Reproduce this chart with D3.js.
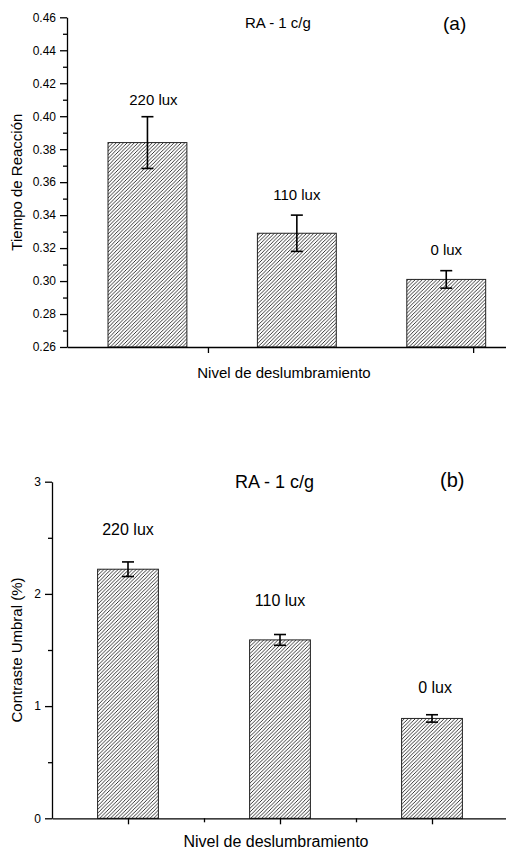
<!DOCTYPE html>
<html>
<head>
<meta charset="utf-8">
<script src="https://cdn.jsdelivr.net/npm/d3@7"></script>
<style>
  body { margin: 0; background: #fff; }
  svg text { font-family: "Liberation Sans", Arial, sans-serif; fill: #000; }
</style>
</head>
<body>
<svg id="chart" width="506" height="855"></svg>
<script>
// values
const categories = ['220 lux', '110 lux', '0 lux'];
const catPos = [1, 2, 3];

const tiempo = [0.384, 0.329, 0.301];
const tiempoErr = [0.0157, 0.011, 0.0053];
const tiempoLabelAt = [0.407, 0.349, 0.316];
const tiempoLabelPos = [1.04, 2, 3];
const tiempoTicks = [0.26, 0.28, 0.30, 0.32, 0.34, 0.36, 0.38, 0.40, 0.42, 0.44, 0.46];
const tiempoMinor = [0.27, 0.29, 0.31, 0.33, 0.35, 0.37, 0.39, 0.41, 0.43, 0.45];
const tiempoXTicks = [1.405, 3.18];

const contraste = [2.22, 1.59, 0.89];
const contrasteErr = [0.065, 0.048, 0.033];
const contrasteLabelAt = [2.525, 1.892, 1.117];
const contrasteLabelPos = [1, 2, 3.02];
const contrasteTicks = [0, 1, 2, 3];
const contrasteMinor = [0.5, 1.5, 2.5];
const contrasteXTicks = [1, 2, 3];
const contrasteXMinor = [1.5, 2.5];

const svg = d3.select('#chart');

// hatch fill used by the bars
svg.append('defs')
  .append('pattern')
  .attr('id', 'hatch')
  .attr('patternUnits', 'userSpaceOnUse')
  .attr('width', 3.6)
  .attr('height', 3.6)
  .append('path')
  .attr('d', 'M-1,1 l2,-2 M0,3.6 l3.6,-3.6 M2.6,4.6 l2,-2')
  .attr('stroke', '#222')
  .attr('stroke-width', 0.9);

function drawPanel(p) {
  const g = svg.append('g');
  const x = d3.scaleLinear().domain(p.xDomain).range(p.xRange);
  const y = d3.scaleLinear().domain(p.yDomain).range(p.yRange);

  const rows = p.values.map((v, i) => ({
    pos: catPos[i], v: v, err: p.errs[i], name: categories[i],
    labelAt: p.labelAt[i], labelPos: p.labelPos[i]
  }));

  // bars
  g.selectAll('rect.bar')
    .data(rows)
    .join('rect')
    .attr('class', 'bar')
    .attr('x', d => x(d.pos - p.barW / 2))
    .attr('width', d => x(d.pos + p.barW / 2) - x(d.pos - p.barW / 2))
    .attr('y', d => y(d.v))
    .attr('height', d => y(p.yDomain[0]) - y(d.v))
    .attr('fill', 'url(#hatch)')
    .attr('stroke', '#222')
    .attr('stroke-width', 1);

  // error bars
  const eb = g.selectAll('g.err').data(rows).join('g').attr('class', 'err')
    .attr('stroke', '#000').attr('stroke-width', 1.6);
  eb.append('line')
    .attr('x1', d => x(d.pos)).attr('x2', d => x(d.pos))
    .attr('y1', d => y(d.v + d.err)).attr('y2', d => y(d.v - d.err));
  eb.append('line')
    .attr('x1', d => x(d.pos) - 6).attr('x2', d => x(d.pos) + 6)
    .attr('y1', d => y(d.v + d.err)).attr('y2', d => y(d.v + d.err));
  eb.append('line')
    .attr('x1', d => x(d.pos) - 6).attr('x2', d => x(d.pos) + 6)
    .attr('y1', d => y(d.v - d.err)).attr('y2', d => y(d.v - d.err));

  // bar labels
  g.selectAll('text.lbl')
    .data(rows)
    .join('text')
    .attr('class', 'lbl')
    .attr('x', d => x(d.labelPos))
    .attr('y', d => y(d.labelAt))
    .attr('text-anchor', 'middle')
    .style('font-size', p.lblSize + 'px')
    .text(d => d.name);

  // y axis
  g.append('g')
    .attr('transform', `translate(${p.xRange[0]},0)`)
    .call(d3.axisLeft(y).tickValues(p.yTicks).tickSize(7).tickSizeOuter(0)
      .tickPadding(4).tickFormat(p.yFormat));
  g.append('g')
    .attr('transform', `translate(${p.xRange[0]},0)`)
    .call(d3.axisLeft(y).tickValues(p.yMinor).tickSize(4).tickFormat(''))
    .call(a => a.select('.domain').remove());

  // x axis
  g.append('g')
    .attr('transform', `translate(0,${p.yRange[0]})`)
    .call(d3.axisBottom(x).tickValues(p.xTicks).tickSize(6).tickSizeOuter(0).tickFormat(''));
  if (p.xMinor) {
    g.append('g')
      .attr('transform', `translate(0,${p.yRange[0]})`)
      .call(d3.axisBottom(x).tickValues(p.xMinor).tickSize(4).tickFormat(''))
      .call(a => a.select('.domain').remove());
  }

  g.selectAll('.domain, .tick line').attr('stroke', '#000').attr('stroke-width', 1.3);
  g.selectAll('.tick text')
    .style('font-family', '"Liberation Sans", Arial, sans-serif')
    .style('font-size', '12px').attr('fill', '#000');

  // titles
  g.append('text')
    .attr('x', p.raX).attr('y', p.raY)
    .style('font-size', p.raSize + 'px')
    .text('RA - 1 c/g');
  g.append('text')
    .attr('x', p.tagX).attr('y', p.tagY)
    .style('font-size', p.tagSize + 'px')
    .text(p.tag);
  g.append('text')
    .attr('x', p.xTitleX).attr('y', p.xTitleY)
    .attr('text-anchor', 'middle')
    .style('font-size', p.xTitleSize + 'px')
    .text('Nivel de deslumbramiento');
  g.append('text')
    .attr('transform', `translate(22,${(p.yRange[0] + p.yRange[1]) / 2}) rotate(-90)`)
    .attr('text-anchor', 'middle')
    .style('font-size', '15px')
    .text(p.yTitle);
}

drawPanel({
  values: tiempo, errs: tiempoErr, labelAt: tiempoLabelAt, labelPos: tiempoLabelPos,
  xDomain: [0.4615, 3.4], xRange: [67, 506],
  yDomain: [0.26, 0.46], yRange: [347, 17.3],
  yTicks: tiempoTicks, yMinor: tiempoMinor, yFormat: d3.format('.2f'),
  xTicks: tiempoXTicks, xMinor: null,
  barW: 0.528, lblSize: 15,
  raX: 245, raY: 28, raSize: 15,
  tag: '(a)', tagX: 443, tagY: 30, tagSize: 19,
  xTitleX: 284, xTitleY: 378, xTitleSize: 15,
  yTitle: 'Tiempo de Reacción'
});

drawPanel({
  values: contraste, errs: contrasteErr, labelAt: contrasteLabelAt, labelPos: contrasteLabelPos,
  xDomain: [0.5, 3.5], xRange: [52, 508],
  yDomain: [0, 3], yRange: [818.3, 481.7],
  yTicks: contrasteTicks, yMinor: contrasteMinor, yFormat: d3.format('d'),
  xTicks: contrasteXTicks, xMinor: contrasteXMinor,
  barW: 0.4, lblSize: 16,
  raX: 235, raY: 488, raSize: 18,
  tag: '(b)', tagX: 440, tagY: 487, tagSize: 20,
  xTitleX: 276, xTitleY: 847, xTitleSize: 16,
  yTitle: 'Contraste Umbral (%)'
});
</script>
</body>
</html>
